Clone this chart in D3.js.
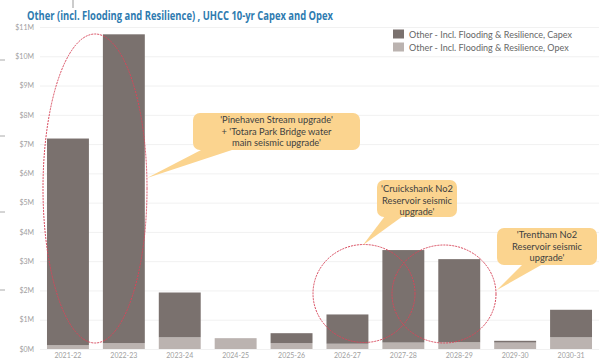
<!DOCTYPE html>
<html><head><meta charset="utf-8">
<script src="https://cdn.jsdelivr.net/npm/d3@7"></script>
<style>body{margin:0;background:#fff}svg{display:block}</style>
</head><body>
<svg id="c" width="604" height="361"></svg>
<script>
const categories = ["2021-22","2022-23","2023-24","2024-25","2025-26","2026-27","2027-28","2028-29","2029-30","2030-31"];
const capex = [7.06, 10.55, 1.53, 0.0, 0.34, 1.0, 3.16, 2.84, 0.06, 0.94];
const opex  = [0.13, 0.2, 0.4, 0.37, 0.2, 0.18, 0.22, 0.23, 0.22, 0.4];
const yTicks = [0,1,2,3,4,5,6,7,8,9,10,11];
const seriesNames = ["Other - Incl. Flooding & Resilience, Capex","Other - Incl. Flooding & Resilience, Opex"];
const title = "Other (incl. Flooding and Resilience) , UHCC 10-yr Capex and Opex";
const callouts = [
  {lines:["'Pinehaven Stream upgrade'","+ 'Totara Park Bridge water","main seismic upgrade'"]},
  {lines:["'Cruickshank No2","Reservoir seismic","upgrade'"]},
  {lines:["'Trentham No2","Reservoir seismic","upgrade'"]}
];

const svg = d3.select("#c");
const colCapex = "#7a716e", colOpex = "#bbb3b0";
const x = d3.scaleBand().domain(categories).range([40, 599]).paddingInner(0.25).paddingOuter(0.125);
const y = d3.scaleLinear().domain([0, 11]).range([349, 27]);

// slide artifacts
svg.append("line").attr("x1",73).attr("x2",73).attr("y1",0).attr("y2",8).attr("stroke","#999").attr("stroke-width",1);
[60,136,212,290].forEach(v=>svg.append("line").attr("x1",0).attr("x2",5).attr("y1",v).attr("y2",v).attr("stroke","#aaa"));

// gridlines
svg.append("g").selectAll("line").data(yTicks).join("line")
  .attr("x1",40).attr("x2",599).attr("y1",d=>y(d)+0.5).attr("y2",d=>y(d)+0.5)
  .attr("stroke","#f1f1f1");

// y axis
const ya = svg.append("g").attr("transform","translate(37,0)")
  .call(d3.axisLeft(y).tickValues(yTicks).tickSize(0).tickFormat(d=>"$"+d+"M"));
ya.select(".domain").remove();
ya.selectAll("text").attr("fill","#a0a0a0").style("font-family","Lato").style("font-size","7px");

// x axis
const xa = svg.append("g").attr("transform","translate(0,351)")
  .call(d3.axisBottom(x).tickSize(0));
xa.select(".domain").remove();
xa.selectAll("text").attr("fill","#a0a0a0").style("font-family","Lato").style("font-size","7px").attr("dy","0.6em");

// bars
const data = categories.map((c,i)=>({c, capex:capex[i], opex:opex[i]}));
const stack = d3.stack().keys(["opex","capex"])(data);
const colors = {opex:colOpex, capex:colCapex};
svg.append("g").selectAll("g").data(stack).join("g").attr("fill",s=>colors[s.key])
  .selectAll("rect").data(s=>s).join("rect")
  .attr("x",d=>x(d.data.c)).attr("width",x.bandwidth())
  .attr("y",d=>y(d[1])).attr("height",d=>Math.max(0,y(d[0])-y(d[1])));

// title
svg.append("text").attr("x",27).attr("y",19.5).text(title)
  .attr("textLength",306).attr("lengthAdjust","spacingAndGlyphs")
  .attr("fill","#2e7bb0").style("font-family","Open Sans").style("font-weight","bold").style("font-size","12px");

// legend
const lg = svg.append("g");
[colCapex,colOpex].forEach((c,i)=>{
  lg.append("rect").attr("x",393).attr("y",29.5+i*13).attr("width",11).attr("height",9).attr("fill",c);
  lg.append("text").attr("x",409).attr("y",37.5+i*13).text(seriesNames[i])
    .attr("fill","#666").style("font-family","Lato").style("font-size","9px");
});

// ellipses
const ell = [
  {cx:95, cy:188.5, rx:52, ry:154.5},
  {cx:364, cy:293.5, rx:51, ry:49},
  {cx:444, cy:294, rx:52, ry:49}
];
svg.append("g").selectAll("ellipse").data(ell).join("ellipse")
  .attr("cx",d=>d.cx).attr("cy",d=>d.cy).attr("rx",d=>d.rx).attr("ry",d=>d.ry)
  .attr("fill","none").attr("stroke","#d8465a").attr("stroke-width",1).attr("stroke-dasharray","2,1");

// callouts
const boxes = [
  {x:193,y:113,w:167,h:37, tail:[[203,149],[235,149],[147,178]], ly:[120,131.5,143]},
  {x:377,y:180,w:80,h:37, tail:[[385,216],[403,216],[363,245]], ly:[189,200.5,212]},
  {x:497,y:228,w:100,h:37, tail:[[523,264],[543,264],[497,290]], ly:[235,246.5,258]}
];
const cfill = "#fbd48f";
boxes.forEach((b,i)=>{
  const g = svg.append("g");
  g.append("path").attr("d", d3.line()(b.tail)+"Z").attr("fill",cfill);
  g.append("rect").attr("x",b.x).attr("y",b.y).attr("width",b.w).attr("height",b.h).attr("rx",7).attr("fill",cfill);
  callouts[i].lines.forEach((t,j)=>{
    g.append("text").attr("x",b.x+b.w/2).attr("y",b.ly[j]).attr("dy","0.35em").attr("text-anchor","middle")
      .text(t).attr("fill","#404040").style("font-family","Lato").style("font-size","9.3px");
  });
});
</script>
</body></html>
